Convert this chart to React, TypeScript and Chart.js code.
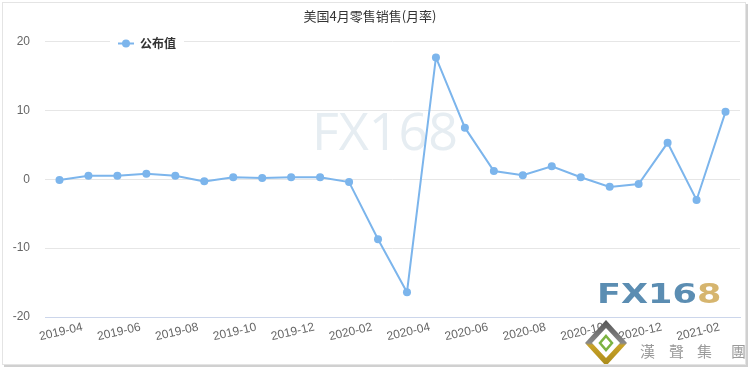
import React, { useEffect, useRef } from 'react';
import { Chart, registerables } from 'chart.js';

Chart.register(...registerables);

const chartTitle = '美国4月零售销售(月率)';
const seriesName = '公布值';
const months = [
  '2019-04', '2019-05', '2019-06', '2019-07', '2019-08', '2019-09', '2019-10', '2019-11',
  '2019-12', '2020-01', '2020-02', '2020-03', '2020-04', '2020-05', '2020-06', '2020-07',
  '2020-08', '2020-09', '2020-10', '2020-11', '2020-12', '2021-01', '2021-02', '2021-03',
];
const values = [
  -0.1, 0.5, 0.5, 0.8, 0.5, -0.3, 0.3, 0.2,
  0.3, 0.3, -0.4, -8.7, -16.4, 17.7, 7.5, 1.2,
  0.6, 1.9, 0.3, -1.1, -0.7, 5.3, -3.0, 9.8,
];
const yMin = -20;
const yMax = 20;
const yStep = 10;
const watermarkText = 'FX168';
const logoChars = ['漢', '聲', '集', '團'];

const LINE_COLOR = '#7cb5ec';

const decorPlugin = {
  id: 'decor',
  beforeDatasetsDraw(chart: any) {
    const ctx = chart.ctx;
    ctx.save();
    ctx.font = "52px 'Open Sans'";
    ctx.fillStyle = '#e6edf2';
    ctx.textAlign = 'center';
    ctx.textBaseline = 'alphabetic';
    ctx.fillText(watermarkText, 385, 150);
    ctx.restore();
  },
  afterDraw(chart: any) {
    const ctx = chart.ctx;
    ctx.save();
    // legend
    ctx.fillStyle = '#ffffff';
    ctx.fillRect(110, 35, 74, 17);
    ctx.strokeStyle = LINE_COLOR;
    ctx.lineWidth = 2;
    ctx.beginPath();
    ctx.moveTo(118, 43.5);
    ctx.lineTo(134, 43.5);
    ctx.stroke();
    ctx.fillStyle = LINE_COLOR;
    ctx.beginPath();
    ctx.arc(126, 43.5, 4, 0, Math.PI * 2);
    ctx.fill();
    ctx.fillStyle = '#333333';
    ctx.font = "bold 12px 'Noto Sans CJK SC'";
    ctx.textAlign = 'left';
    ctx.textBaseline = 'middle';
    ctx.fillText(seriesName, 140, 43.5);

    // logo text FX168
    ctx.save();
    ctx.translate(597, 303);
    ctx.scale(1.3, 1);
    ctx.font = "bold 27px 'DejaVu Sans'";
    ctx.textBaseline = 'alphabetic';
    ctx.textAlign = 'left';
    const main = watermarkText.slice(0, 4);
    ctx.fillStyle = '#5b8db2';
    ctx.fillText(main, 0, 0);
    const w = ctx.measureText(main).width;
    ctx.fillStyle = '#d6b56e';
    ctx.fillText(watermarkText.slice(4), w, 0);
    ctx.restore();

    // diamond
    const cx = 606, cy = 343;
    const dia = (dw: number, dh: number) => {
      ctx.beginPath();
      ctx.moveTo(cx, cy - dh);
      ctx.lineTo(cx + dw, cy);
      ctx.lineTo(cx, cy + dh);
      ctx.lineTo(cx - dw, cy);
      ctx.closePath();
    };
    const g = ctx.createLinearGradient(0, cy - 23, 0, cy + 23);
    g.addColorStop(0, '#555555');
    g.addColorStop(0.5, '#8a8a8a');
    g.addColorStop(0.55, '#c9a227');
    g.addColorStop(1, '#a88a1a');
    ctx.fillStyle = g;
    dia(21, 23);
    ctx.fill();
    ctx.fillStyle = '#ffffff';
    dia(14, 15);
    ctx.fill();
    ctx.strokeStyle = '#7cb342';
    ctx.lineWidth = 2.5;
    dia(6, 7);
    ctx.stroke();

    // 漢聲集團
    ctx.fillStyle = '#9a9a9a';
    ctx.font = "15px 'Noto Sans CJK TC'";
    ctx.textBaseline = 'middle';
    const cxs = [640, 669, 697, 731];
    logoChars.forEach((c, i) => ctx.fillText(c, cxs[i], 351));

    // frame
    ctx.strokeStyle = '#e4e4e4';
    ctx.lineWidth = 1;
    ctx.strokeRect(2.5, 2.5, 743, 362);
    ctx.fillStyle = '#d0d0d0';
    ctx.fillRect(746, 4, 2, 363);
    ctx.fillRect(4, 365, 744, 2);
    ctx.restore();
  },
};

export default function App() {
  const ref = useRef<HTMLCanvasElement | null>(null);

  useEffect(() => {
    if (!ref.current) return;
    const chart = new Chart(ref.current, {
      type: 'line',
      data: {
        labels: months,
        datasets: [
          {
            label: seriesName,
            data: values,
            borderColor: LINE_COLOR,
            backgroundColor: LINE_COLOR,
            borderWidth: 2,
            pointRadius: 4,
            pointHoverRadius: 4,
            pointBorderWidth: 0,
            tension: 0,
          },
        ],
      },
      options: {
        animation: false,
        responsive: true,
        maintainAspectRatio: false,
        layout: { padding: { left: 0, right: 10, top: 0, bottom: 0 } },
        plugins: {
          legend: { display: false },
          tooltip: { enabled: false },
          title: {
            display: true,
            text: chartTitle,
            color: '#333333',
            font: { family: "'Noto Sans CJK SC'", size: 13, weight: 'normal', lineHeight: 1.2 },
            padding: { top: 8, bottom: 18 },
          },
        },
        scales: {
          x: {
            type: 'category',
            offset: true,
            grid: { display: false, drawTicks: false },
            border: { display: true, color: '#ccd6eb', width: 1 },
            ticks: {
              autoSkip: false,
              minRotation: 13,
              maxRotation: 13,
              padding: 3,
              labelOffset: 23,
              color: '#666666',
              font: { family: "'Liberation Sans'", size: 12 },
              callback: (_v: any, i: number) => (i % 2 === 0 ? months[i] : ''),
            },
            afterFit: (s: any) => {
              s.height = 53;
              s.paddingLeft = 0;
              s.paddingRight = 0;
            },
          },
          y: {
            min: yMin,
            max: yMax,
            grid: {
              drawTicks: false,
              color: (c: any) => (c.tick && c.tick.value === yMin ? '#ccd6eb' : '#e6e6e6'),
            },
            border: { display: false },
            ticks: {
              stepSize: yStep,
              padding: 15,
              color: '#666666',
              font: { family: "'Liberation Sans'", size: 12 },
            },
            afterFit: (s: any) => {
              s.width = 45;
              s.paddingTop = 0;
              s.paddingBottom = 0;
            },
          },
        },
      },
      plugins: [decorPlugin],
    });
    return () => chart.destroy();
  }, []);

  return (
    <div style={{ position: 'fixed', left: 0, top: 0, width: 750, height: 370, background: '#ffffff' }}>
      <canvas ref={ref} />
    </div>
  );
}
